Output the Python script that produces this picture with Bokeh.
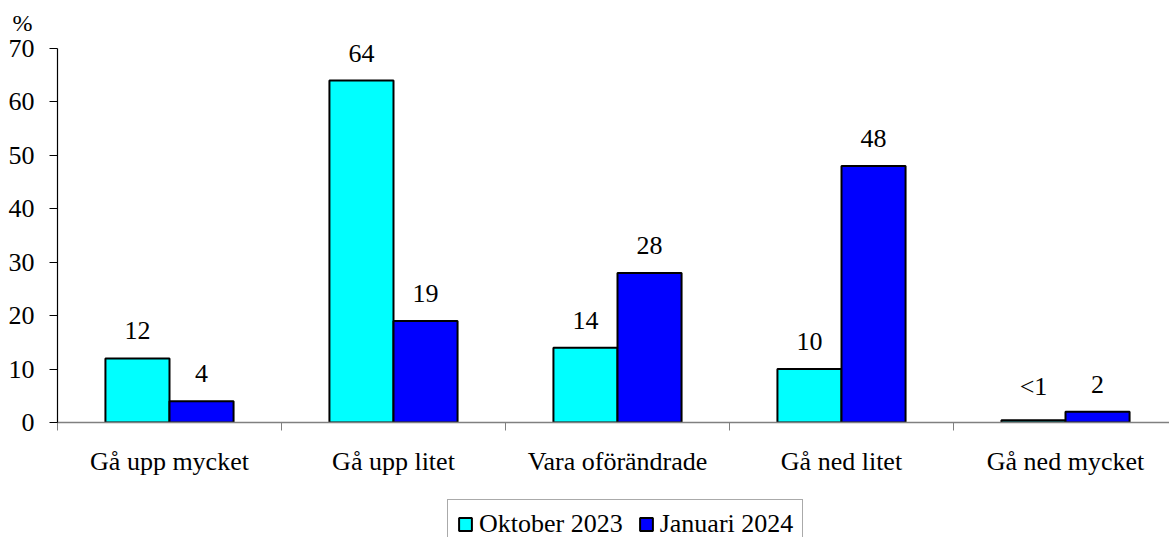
from bokeh.plotting import figure
from bokeh.models import (ColumnDataSource, Range1d, FixedTicker, Legend, LegendItem, Title)
from bokeh.layouts import column
from bokeh.core.properties import value
from bokeh.embed import file_html
from bokeh.resources import INLINE

categories = ["Gå upp mycket", "Gå upp litet", "Vara oförändrade", "Gå ned litet", "Gå ned mycket"]
series_names = ["Oktober 2023", "Januari 2024"]
oct_values = [12, 64, 14, 10, 0.4]
jan_values = [4, 19, 28, 48, 2]
oct_labels = ["12", "64", "14", "10", "<1"]
jan_labels = ["4", "19", "28", "48", "2"]
y_ticks = [0, 10, 20, 30, 40, 50, 60, 70]

FONT = "Liberation Serif"
FS = "26px"
CYAN = "#00FFFF"
BLUE = "#0000FF"

n = len(categories)
centers = [i + 0.5 for i in range(n)]
bw = 0.286
src_oct = ColumnDataSource(dict(x=[c - bw / 2 for c in centers], top=oct_values, lab=oct_labels))
src_jan = ColumnDataSource(dict(x=[c + bw / 2 for c in centers], top=jan_values, lab=jan_labels))

p = figure(width=1169, height=490, output_backend="svg", toolbar_location=None,
           x_range=Range1d(0, 1112 / 224), y_range=Range1d(0, 387 * 70 / 374),
           min_border_left=57, min_border_right=0, min_border_top=35, min_border_bottom=68)
p.outline_line_color = None
p.xgrid.visible = False
p.ygrid.visible = False
p.background_fill_color = "white"
p.border_fill_color = "white"

p.vbar(x="x", top="top", width=bw, bottom=0, source=src_oct, fill_color=CYAN,
       line_color="black", line_width=2)
p.vbar(x="x", top="top", width=bw, bottom=0, source=src_jan, fill_color=BLUE,
       line_color="black", line_width=2)

for src in (src_oct, src_jan):
    p.text(x="x", y="top", text="lab", source=src, text_align="center", text_baseline="bottom",
           y_offset=-19, text_font=value(FONT), text_font_size=FS, text_color="black")

# x axis
xa = p.xaxis[0]
xa.ticker = FixedTicker(ticks=centers, minor_ticks=list(range(n + 1)))
xa.major_label_overrides = {c: cat for c, cat in zip(centers, categories)}
xa.major_tick_out = 0
xa.major_tick_in = 0
xa.minor_tick_out = 8
xa.minor_tick_in = 0
xa.axis_line_color = "#808080"
xa.minor_tick_line_color = "#808080"
xa.axis_line_width = 1.5
xa.major_label_text_font = FONT
xa.major_label_text_font_size = FS
xa.major_label_text_color = "black"
xa.major_label_standoff = 16

# y axis
ya = p.yaxis[0]
ya.ticker = FixedTicker(ticks=y_ticks)
ya.bounds = (0, 70)
ya.major_tick_out = 8
ya.major_tick_in = 0
ya.minor_tick_line_color = None
ya.axis_line_color = "black"
ya.major_tick_line_color = "black"
ya.axis_line_width = 1.2
ya.major_label_text_font = FONT
ya.major_label_text_font_size = FS
ya.major_label_text_color = "black"
ya.major_label_standoff = 15

pct = Title(text="%", align="left", offset=-45, standoff=0, text_font=FONT,
            text_font_size="24px", text_font_style="normal", text_color="black")
p.add_layout(pct, "above")

# legend strip below the chart (its frame is aligned with the chart's frame)
lf = figure(width=1169, height=47, output_backend="svg", toolbar_location=None,
            x_axis_location=None, y_axis_location=None,
            x_range=Range1d(100, 101), y_range=Range1d(0, 1),
            min_border_left=0, min_border_right=0, min_border_top=0, min_border_bottom=0)
lf.outline_line_color = None
lf.xgrid.visible = False
lf.ygrid.visible = False
e1 = lf.vbar(x="x", top="top", width=bw, source=src_oct,
             fill_color=CYAN, line_color="black", line_width=2)
e2 = lf.vbar(x="x", top="top", width=bw, source=src_jan,
             fill_color=BLUE, line_color="black", line_width=2)
e1.visible = False
e2.visible = False

legend = Legend(items=[LegendItem(label=series_names[0], renderers=[e1]),
                       LegendItem(label=series_names[1], renderers=[e2])],
                orientation="horizontal", location=(390, -12), click_policy="none",
                label_text_font=FONT, label_text_font_size=FS, label_text_color="black",
                glyph_width=16, glyph_height=16, label_standoff=6, spacing=15,
                padding=9, margin=0, border_line_color="#555555", border_line_width=1,
                background_fill_alpha=1)
lf.add_layout(legend, "center")

layout = column(p, lf, spacing=0)
open("out.html", "w").write(file_html(layout, INLINE))
